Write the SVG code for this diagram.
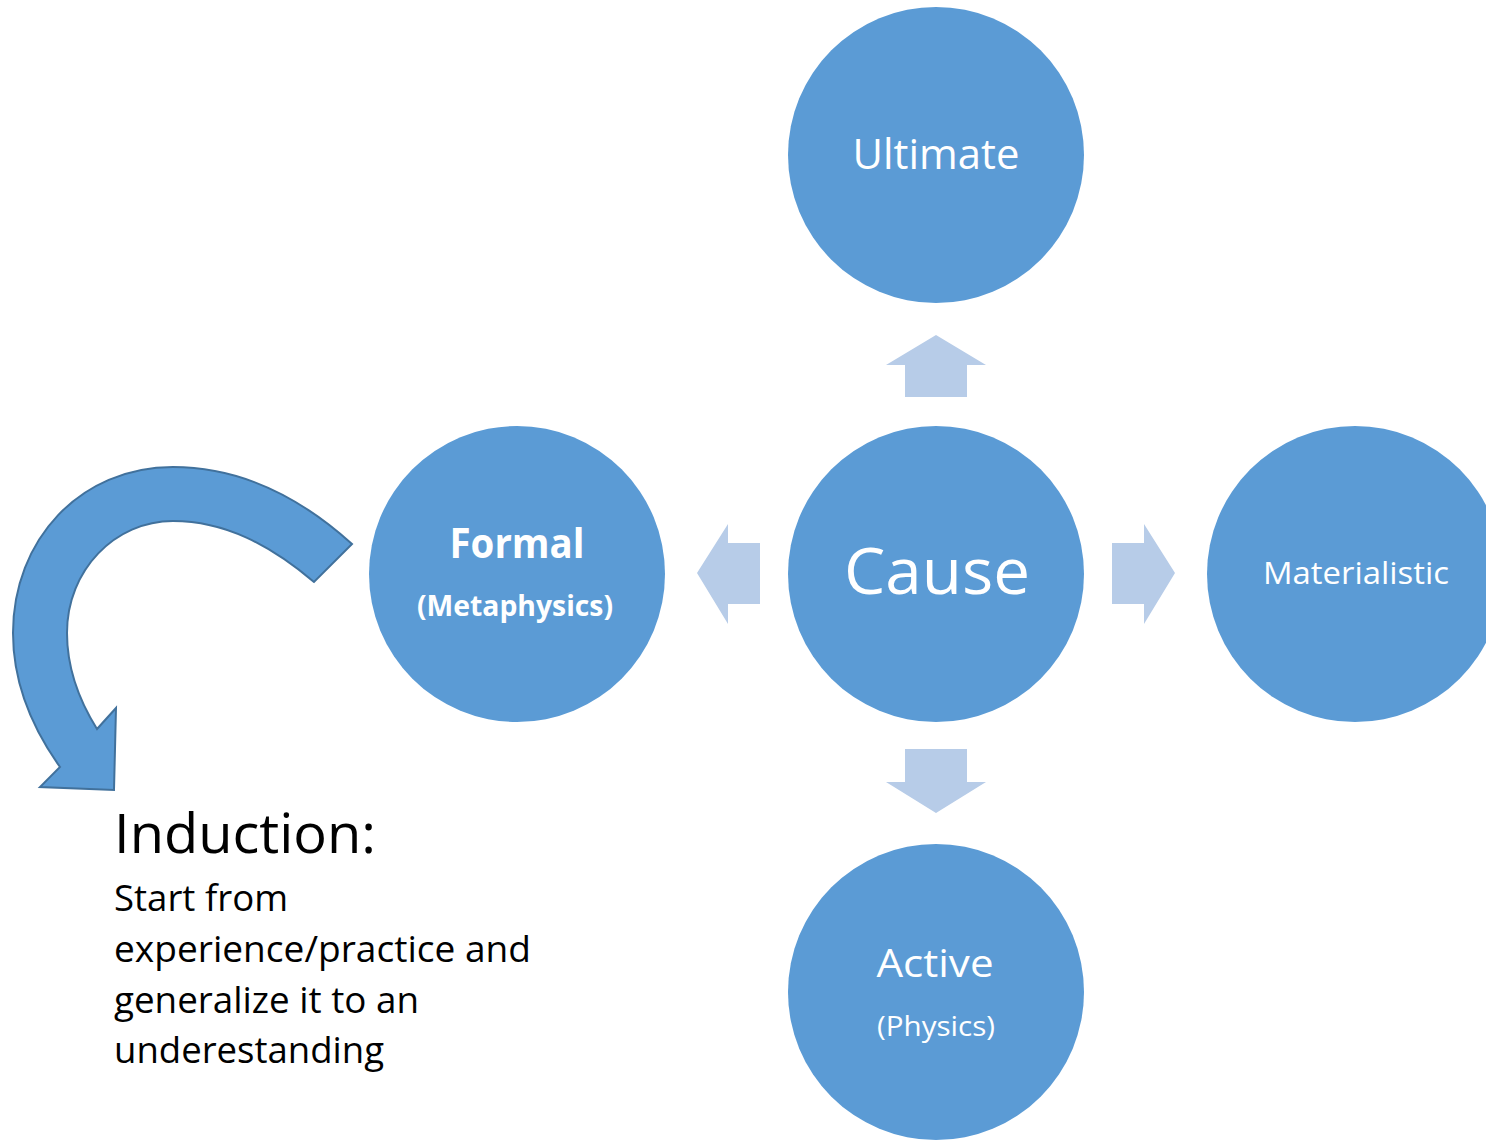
<svg xmlns="http://www.w3.org/2000/svg" width="1486" height="1140" viewBox="0 0 1486 1140">
<style>
.node{fill:#5B9BD5}
.lbl{fill:#FFFFFF;font-family:"Open Sans","Liberation Sans",sans-serif;text-anchor:middle}
.blk{fill:#B7CCE8}
.txt{fill:#000000;font-family:"Open Sans","Liberation Sans",sans-serif}
</style>
<rect width="1486" height="1140" fill="#FFFFFF"/>
<g id="connectors">
<polygon class="blk" points="936,335 986,365 967,365 967,397 905,397 905,365 886,365"/>
<polygon class="blk" points="697,573 728,524 728,543 760,543 760,604 728,604 728,624"/>
<polygon class="blk" points="1175,573 1144,524 1144,543 1112,543 1112,604 1144,604 1144,624"/>
<polygon class="blk" points="936,813 986,782 967,782 967,749 905,749 905,782 886,782"/>
<path id="induction-arrow" d="M352,544 C300,497 240,467 173,467 C80,467 13,540 13,633 C13,680 30,725 60,767 L40,787 L114,790 L116,708 L97,729 C77,697 67,665 67,633 C67,570 115,521 173,521 C225,521 270,545 314,582 Z" fill="#5B9BD5" stroke="#41719C" stroke-width="2" stroke-linejoin="miter"/>
</g>
<g id="ultimate">
<circle class="node" cx="936" cy="155" r="148"/>
<text class="lbl" x="936" y="169" font-size="42" textLength="167" lengthAdjust="spacingAndGlyphs">Ultimate</text>
</g>
<g id="cause">
<circle class="node" cx="936" cy="574" r="148"/>
<text class="lbl" x="937" y="594" font-size="64" textLength="186" lengthAdjust="spacingAndGlyphs">Cause</text>
</g>
<g id="formal">
<circle class="node" cx="517" cy="574" r="148"/>
<text class="lbl" x="517" y="558" font-size="41" font-weight="bold" textLength="135" lengthAdjust="spacingAndGlyphs">Formal</text>
<text class="lbl" x="515" y="616" font-size="28" font-weight="bold" textLength="196" lengthAdjust="spacingAndGlyphs">(Metaphysics)</text>
</g>
<g id="materialistic">
<circle class="node" cx="1355" cy="574" r="148"/>
<text class="lbl" x="1356" y="584" font-size="31" textLength="186" lengthAdjust="spacingAndGlyphs">Materialistic</text>
</g>
<g id="active">
<circle class="node" cx="936" cy="992" r="148"/>
<text class="lbl" x="935" y="977" font-size="38" textLength="117" lengthAdjust="spacingAndGlyphs">Active</text>
<text class="lbl" x="936" y="1036" font-size="28" textLength="118" lengthAdjust="spacingAndGlyphs">(Physics)</text>
</g>
<g id="induction-text">
<text class="txt" x="114" y="853" font-size="55" textLength="262" lengthAdjust="spacingAndGlyphs">Induction:</text>
<text class="txt" x="114" y="911" font-size="37" textLength="174" lengthAdjust="spacingAndGlyphs">Start from</text>
<text class="txt" x="114" y="962" font-size="37" textLength="417" lengthAdjust="spacingAndGlyphs">experience/practice and</text>
<text class="txt" x="114" y="1013" font-size="37" textLength="305" lengthAdjust="spacingAndGlyphs">generalize it to an</text>
<text class="txt" x="114" y="1063" font-size="37" textLength="270" lengthAdjust="spacingAndGlyphs">underestanding</text>
</g>
</svg>
